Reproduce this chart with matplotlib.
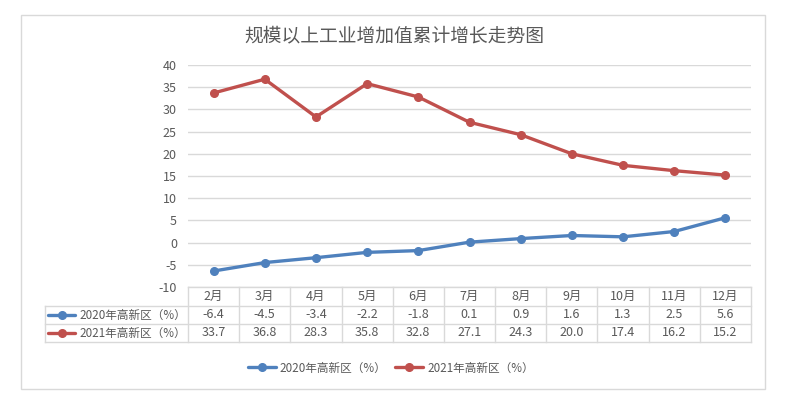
import matplotlib
matplotlib.use("Agg")
import matplotlib.pyplot as plt
from matplotlib.lines import Line2D
from matplotlib.patches import Rectangle
import matplotlib.transforms as mtransforms

plt.rcParams['font.family'] = ['Noto Sans CJK SC', 'DejaVu Sans']

title = "规模以上工业增加值累计增长走势图"
months = ["2月", "3月", "4月", "5月", "6月", "7月", "8月", "9月", "10月", "11月", "12月"]
series_names = ["2020年高新区（%）", "2021年高新区（%）"]
values_2020 = [-6.4, -4.5, -3.4, -2.2, -1.8, 0.1, 0.9, 1.6, 1.3, 2.5, 5.6]
values_2021 = [33.7, 36.8, 28.3, 35.8, 32.8, 27.1, 24.3, 20.0, 17.4, 16.2, 15.2]
y_ticks = [-10, -5, 0, 5, 10, 15, 20, 25, 30, 35, 40]

colors = ["#4F81BD", "#C0504D"]
grid_c = "#D9D9D9"
text_c = "#595959"

W, H = 788, 397
fig = plt.figure(figsize=(W / 100, H / 100), dpi=100)

def fx(px):
    return px / W

def fy(py):
    return 1 - py / H

# outer border
fig.add_artist(Rectangle((fx(21), fy(389)), fx(765) - fx(21), fy(15) - fy(389),
                         transform=fig.transFigure, fill=False, edgecolor=grid_c, lw=1))

ax_l, ax_r, ax_t, ax_b = 188, 751, 65, 287
ax = fig.add_axes([fx(ax_l), fy(ax_b), fx(ax_r) - fx(ax_l), fy(ax_t) - fy(ax_b)])

x = list(range(len(months)))
lines = []
for vals, c, name in zip([values_2020, values_2021], colors, series_names):
    ln, = ax.plot(x, vals, color=c, lw=2.4, marker='o', markersize=5.5, label=name,
                  solid_capstyle='round', zorder=3)
    lines.append(ln)

ax.set_xlim(-0.5, len(months) - 0.5)
ax.set_ylim(min(y_ticks), max(y_ticks))
ax.set_yticks(y_ticks)
ax.set_yticklabels([str(t) for t in y_ticks])
ax.tick_params(axis='y', length=0, pad=8, labelsize=9, labelcolor=text_c)
ax.tick_params(axis='x', length=0, labelbottom=False)
ax.set_xticks([])
ax.grid(axis='y', color=grid_c, lw=1)
ax.set_axisbelow(True)
for s in ax.spines.values():
    s.set_visible(False)

# data table below
trans = mtransforms.blended_transform_factory(ax.transData, ax.transAxes)
axh = ax_b - ax_t

def ay(py):
    return -(py - ax_b) / axh

row_edges = [287, 306, 324, 342]
for i, yy in enumerate(row_edges):
    x0 = 44.7 if i > 0 else ax_l
    fig.add_artist(Line2D([fx(x0), fx(ax_r)], [fy(yy), fy(yy)], transform=fig.transFigure,
                          color=grid_c, lw=1))
for k in range(len(months) + 1):
    ax.add_line(Line2D([k - 0.5, k - 0.5], [ay(287), ay(342)], transform=trans,
                       color=grid_c, lw=1, clip_on=False))
fig.add_artist(Line2D([fx(44.7), fx(44.7)], [fy(306), fy(342)], transform=fig.transFigure,
                      color=grid_c, lw=1))

row_centers = [(row_edges[i] + row_edges[i + 1]) / 2 for i in range(3)]
for k, m in enumerate(months):
    ax.text(k, ay(row_centers[0]), m, transform=trans, ha='center', va='center',
            fontsize=9, color=text_c)
    ax.text(k, ay(row_centers[1]), f"{values_2020[k]:.1f}", transform=trans, ha='center',
            va='center', fontsize=9, color=text_c)
    ax.text(k, ay(row_centers[2]), f"{values_2021[k]:.1f}", transform=trans, ha='center',
            va='center', fontsize=9, color=text_c)

for r, (name, c) in enumerate(zip(series_names, colors)):
    yc = row_centers[r + 1]
    fig.add_artist(Line2D([fx(48), fx(75)], [fy(yc), fy(yc)], transform=fig.transFigure,
                          color=c, lw=2.4, solid_capstyle='round'))
    fig.add_artist(Line2D([fx(61.5)], [fy(yc)], transform=fig.transFigure, color=c,
                          marker='o', markersize=5.5, lw=0))
    fig.text(fx(79), fy(yc), name, ha='left', va='center', fontsize=8.4, color=text_c)

# title
fig.text(0.5, fy(36), title, ha='center', va='center', fontsize=13.5, color=text_c)

# legend
fig.legend(handles=lines, loc='center', bbox_to_anchor=(fx(391), fy(368)), ncol=2,
           frameon=False, fontsize=8.4, labelcolor=text_c, handlelength=2.4,
           handletextpad=0.35, columnspacing=0.75)

fig.savefig("out.png", dpi=100)
